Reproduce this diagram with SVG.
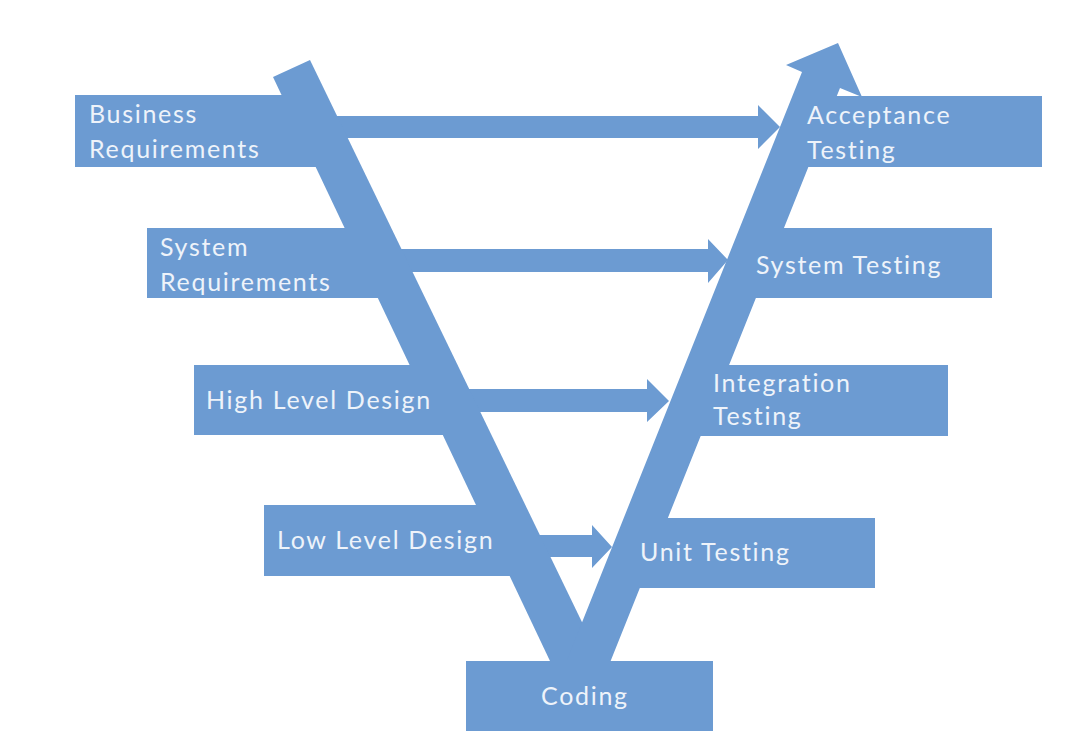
<svg xmlns="http://www.w3.org/2000/svg" width="1080" height="736" viewBox="0 0 1080 736">
<style>
.s{fill:#6c9bd2}
.t{font-family:Lato,"Noto Sans",sans-serif;font-size:25px;letter-spacing:1.7px;fill:#eef3fa}
</style>
<rect width="1080" height="736" fill="#ffffff"/>
<g id="connectors">
<polygon class="s" points="300,116 758,116 758,105 780,127 758,149 758,138 300,138"/>
<polygon class="s" points="370,249 708,249 708,239 728,260 708,283 708,272 370,272"/>
<polygon class="s" points="430,389 647,389 647,379 669,401 647,422 647,412 430,412"/>
<polygon class="s" points="500,535 592,535 592,525 612,547 592,568 592,557 500,557"/>
</g>
<g id="v-left">
<polygon class="s" points="273,77 310,60 610,680 559,680"/>
</g>
<g id="v-right">
<polygon class="s" points="559,680 802,72 786,65 838,43 862,97 840,88 603,680"/>
</g>
<g id="business-requirements">
<rect class="s" x="75" y="95" width="245" height="72"/>
<text class="t" x="89" y="123">Business</text>
<text class="t" x="89" y="158">Requirements</text>
</g>
<g id="system-requirements">
<rect class="s" x="147" y="228" width="238" height="70"/>
<text class="t" x="160" y="256">System</text>
<text class="t" x="160" y="291">Requirements</text>
</g>
<g id="high-level-design">
<rect class="s" x="194" y="365" width="256" height="70"/>
<text class="t" x="206" y="409">High Level Design</text>
</g>
<g id="low-level-design">
<rect class="s" x="264" y="505" width="253" height="71"/>
<text class="t" x="277" y="549">Low Level Design</text>
</g>
<g id="acceptance-testing">
<rect class="s" x="800" y="96" width="242" height="71"/>
<text class="t" x="807" y="124">Acceptance</text>
<text class="t" x="807" y="159">Testing</text>
</g>
<g id="system-testing">
<rect class="s" x="748" y="228" width="244" height="70"/>
<text class="t" x="756" y="274">System Testing</text>
</g>
<g id="integration-testing">
<rect class="s" x="693" y="365" width="255" height="71"/>
<text class="t" x="713" y="392">Integration</text>
<text class="t" x="713" y="425">Testing</text>
</g>
<g id="unit-testing">
<rect class="s" x="632" y="518" width="243" height="70"/>
<text class="t" x="640" y="561">Unit Testing</text>
</g>
<g id="coding">
<rect class="s" x="466" y="661" width="247" height="70"/>
<text class="t" x="541" y="705">Coding</text>
</g>
</svg>
